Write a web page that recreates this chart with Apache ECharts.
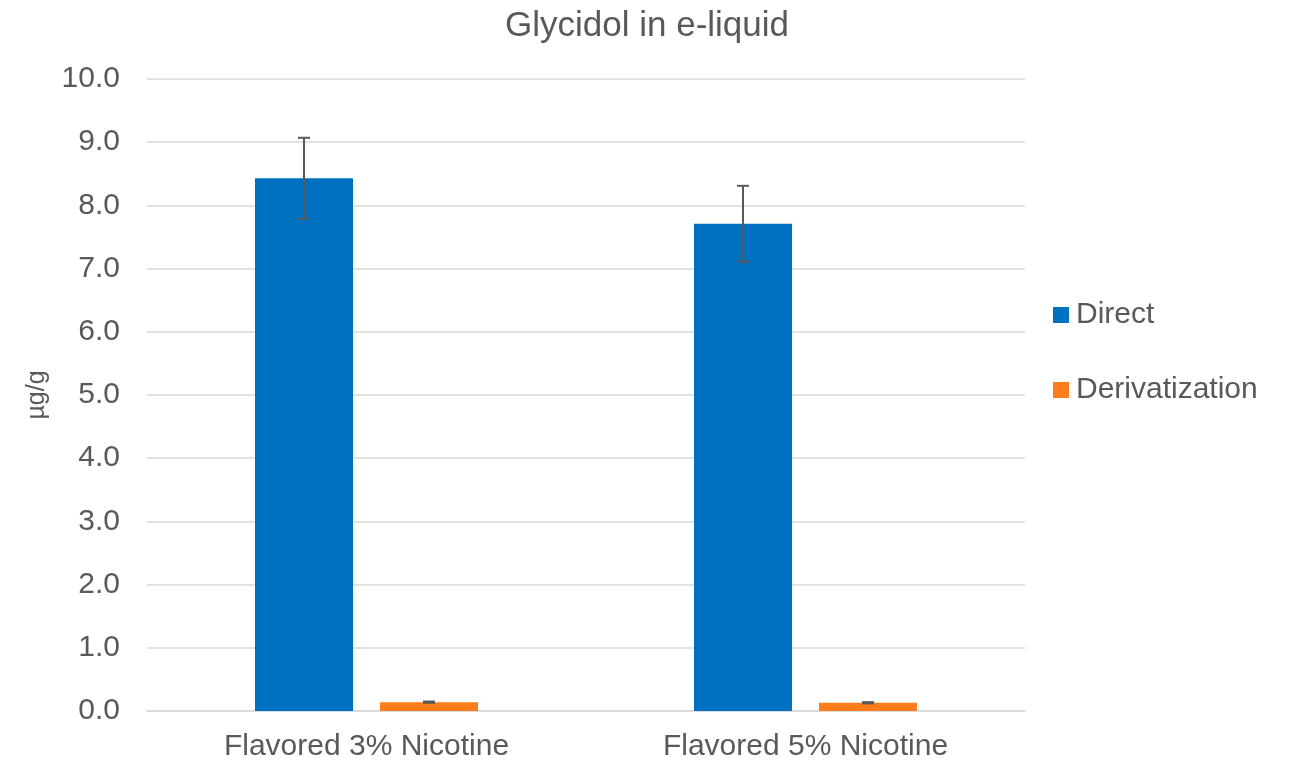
<!DOCTYPE html>
<html>
<head>
<meta charset="utf-8">
<script src="https://cdn.jsdelivr.net/npm/echarts@6/dist/echarts.min.js"></script>
<style>
	html, body { margin: 0; padding: 0; background: #fff; }
	#chart { width: 1294px; height: 764px; }
</style>
</head>
<body>
<div id="chart"></div>
<script>
const categories = ['Flavored 3% Nicotine', 'Flavored 5% Nicotine'];
const directValues = [8.43, 7.71];
const directErrors = [0.64, 0.60];
const derivValues = [0.14, 0.13];
const derivErrors = [0.01, 0.01];

const textColor = '#595959';
const barWidth = 98;
const barGap = 27;

// error bars drawn on top of the bars, shifted to each bar's centre
function errorSeries(values, errors, shift){
	return {
		type: 'custom',
		z: 10,
		data: values.map((v, i) => [i, v - errors[i], v + errors[i]]),
		renderItem: (params, api) => {
			let low = api.coord([api.value(0), api.value(1)]);
			let high = api.coord([api.value(0), api.value(2)]);
			let x = low[0] + shift;
			let cap = 6;
			let style = { stroke: '#595959', lineWidth: 2 };
			return {
				type: 'group',
				children: [
					{ type: 'line', shape: { x1: x, y1: high[1], x2: x, y2: low[1] }, style },
					{ type: 'line', shape: { x1: x - cap, y1: high[1], x2: x + cap, y2: high[1] }, style },
					{ type: 'line', shape: { x1: x - cap, y1: low[1], x2: x + cap, y2: low[1] }, style }
				]
			};
		}
	};
}

const chart = echarts.init(document.getElementById('chart'));
const offset = (barWidth + barGap) / 2;
chart.setOption({
	animation: false,
	textStyle: { fontFamily: 'Liberation Sans, Arial, sans-serif' },
	title: {
		text: 'Glycidol in e-liquid',
		left: 'center',
		top: 4,
		textStyle: { color: textColor, fontSize: 35, fontWeight: 'normal' }
	},
	legend: {
		orient: 'vertical',
		left: 1053,
		top: 300,
		padding: 0,
		itemWidth: 16,
		itemHeight: 16,
		itemGap: 45,
		icon: 'rect',
		textStyle: { color: textColor, fontSize: 30, padding: [0, 0, 0, 2] },
		data: ['Direct', 'Derivatization']
	},
	grid: { left: 147, right: 269, top: 79, bottom: 53 },
	xAxis: {
		type: 'category',
		data: categories,
		axisTick: { show: false },
		axisLine: { lineStyle: { color: '#d9d9d9', width: 1.5 } },
		axisLabel: { color: textColor, fontSize: 30, margin: 21 }
	},
	yAxis: {
		type: 'value',
		min: 0,
		max: 10,
		interval: 1,
		name: 'µg/g',
		nameLocation: 'middle',
		nameGap: 97,
		nameTextStyle: { color: textColor, fontSize: 25 },
		axisLabel: { color: textColor, fontSize: 30, margin: 27, formatter: v => v.toFixed(1) },
		splitLine: { lineStyle: { color: '#d9d9d9', width: 1.5 } }
	},
	series: [
		{
			name: 'Direct',
			type: 'bar',
			data: directValues,
			barWidth: barWidth,
			barGap: (barGap / barWidth * 100) + '%',
			itemStyle: { color: '#0070c0' }
		},
		{
			name: 'Derivatization',
			type: 'bar',
			data: derivValues,
			barWidth: barWidth,
			itemStyle: { color: '#ff7c1a' }
		},
		errorSeries(directValues, directErrors, -offset),
		errorSeries(derivValues, derivErrors, offset)
	]
});
</script>
</body>
</html>
